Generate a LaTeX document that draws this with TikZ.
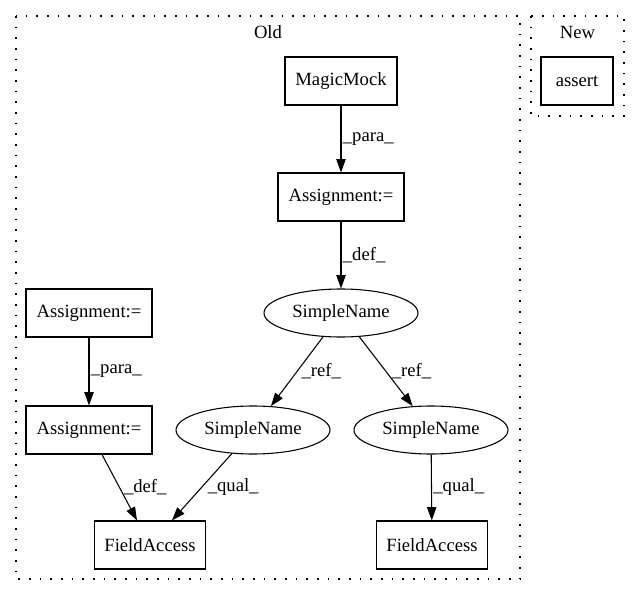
\documentclass[tikz,border=0pt]{standalone}
\usepackage{fontspec}
\setmainfont{Liberation Serif}
\usetikzlibrary{arrows.meta,shapes.geometric}
\begin{document}
\begin{tikzpicture}[x=0.75pt,y=-0.75pt,
  every node/.style={font=\fontsize{14pt}{16pt}\selectfont, inner sep=0pt},
  box/.style={draw, line width=0.8pt, rectangle, minimum height=36pt},
  oval/.style={draw, line width=0.8pt, ellipse, minimum width=115.5pt, minimum height=36pt},
  cluster/.style={draw, line width=0.9pt, dash pattern=on 1.2pt off 6.8pt},
  edge/.style={draw, line width=0.8pt, -{Triangle[length=10pt,width=7pt]}},
  lbl/.style={anchor=west}
]
\useasboundingbox (0,0) rectangle (640,596);
% clusters
\draw[cluster] (16,16) rectangle (520,579);
\draw[cluster] (531,16) rectangle (624,116);
\node (oldlbl) at (268,32) {Old};
\node (newlbl) at (577.5,32) {New};
% nodes
\node[box, minimum width=84pt] (mm) at (341,81) {MagicMock};
\node[box, minimum width=94.5pt] (a1) at (341,197) {Assignment:=};
\node[oval] (s1) at (341,313) {SimpleName};
\node[box, minimum width=94.5pt] (a2) at (89,313) {Assignment:=};
\node[box, minimum width=94.5pt] (a3) at (89,430) {Assignment:=};
\node[oval] (s2) at (253,430) {SimpleName};
\node[oval] (s3) at (431,430) {SimpleName};
\node[box, minimum width=83.25pt] (f1) at (150,545) {FieldAccess};
\node[box, minimum width=83.25pt] (f2) at (432,545) {FieldAccess};
\node[box, minimum width=54pt] (as) at (577,81) {assert};
% edges
\draw[edge] (mm) -- node[lbl, xshift=1pt] {\_para\_} (a1);
\draw[edge] (a1) -- node[lbl, xshift=1pt] {\_def\_} (s1);
\draw[edge] (s1) -- node[lbl, xshift=3pt] {\_ref\_} (s2);
\draw[edge] (s1) -- node[lbl, xshift=4pt] {\_ref\_} (s3);
\draw[edge] (a2) -- node[lbl, xshift=1pt] {\_para\_} (a3);
\draw[edge] (a3) -- node[lbl, xshift=3pt] {\_def\_} (f1);
\draw[edge] (s2) -- node[lbl, xshift=4pt] {\_qual\_} (f1);
\draw[edge] (s3) -- node[lbl, xshift=1pt] {\_qual\_} (f2);
\end{tikzpicture}
\end{document}
